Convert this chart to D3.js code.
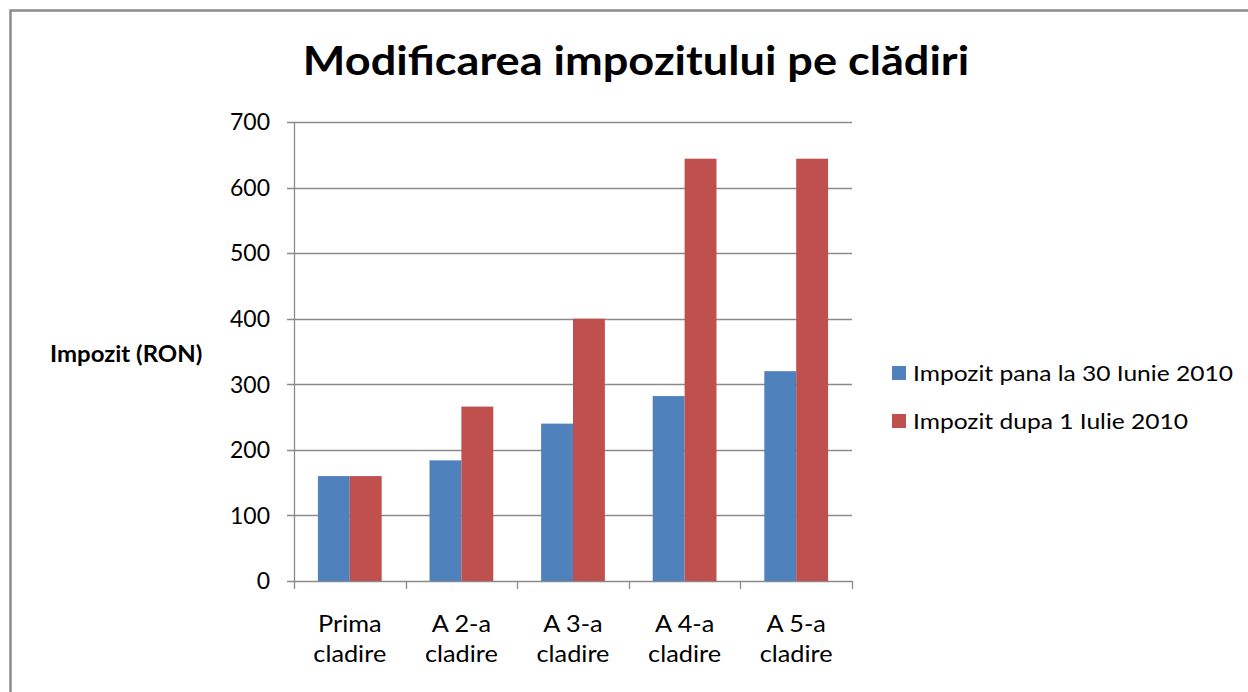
<!DOCTYPE html>
<html>
<head>
<meta charset="utf-8">
<script src="https://cdn.jsdelivr.net/npm/d3@7"></script>
<style>
  body { margin: 0; background: #fff; }
  text { font-family: Lato, "Noto Sans", sans-serif; fill: #000; }
</style>
</head>
<body>
<div id="chart"></div>
<script>
// Data
const categories = [['Prima', 'cladire'], ['A 2-a', 'cladire'], ['A 3-a', 'cladire'], ['A 4-a', 'cladire'], ['A 5-a', 'cladire']];
const seriesNames = ['Impozit pana la 30 Iunie 2010', 'Impozit dupa 1 Iulie 2010'];
const before = [160, 184, 240, 282, 320];
const after = [160, 266, 400, 644, 644];
const yTicks = [0, 100, 200, 300, 400, 500, 600, 700];
const colors = ['#4F81BD', '#C0504D'];

const width = 1248;
const height = 692;
const plot = { left: 294, right: 852, top: 122, bottom: 581 };

const svg = d3.select('#chart')
    .append('svg')
    .attr('width', width)
    .attr('height', height);

// the reference font is a bit wider than Lato, stretch text horizontally
function stretch(sel, factor) {
    sel.each(function () {
        const len = this.getComputedTextLength();
        d3.select(this)
            .attr('textLength', len * factor)
            .attr('lengthAdjust', 'spacingAndGlyphs');
    });
}

// Outer frame
svg.append('rect')
    .attr('x', 10.5)
    .attr('y', 10.5)
    .attr('width', width + 20)
    .attr('height', height + 20)
    .attr('fill', '#fff')
    .attr('stroke', '#8c8c8c')
    .attr('stroke-width', 2.5);

// Title
svg.append('text')
    .attr('x', 636)
    .attr('y', 75)
    .attr('text-anchor', 'middle')
    .style('font-size', '41px')
    .style('font-weight', 'bold')
    .text('Modificarea impozitului pe clădiri')
    .call(stretch, 1.1);

// Scales
const x = d3.scaleBand()
    .domain(d3.range(categories.length))
    .range([plot.left, plot.right]);

// gap width 150% between groups
const xInner = d3.scaleBand()
    .domain([0, 1])
    .range([0, x.bandwidth()])
    .paddingOuter(0.75);

const y = d3.scaleLinear()
    .domain([0, 700])
    .range([plot.bottom, plot.top]);

// Gridlines
svg.append('g')
    .selectAll('line')
    .data(yTicks)
    .enter()
    .append('line')
    .attr('x1', plot.left - 7)
    .attr('x2', plot.right)
    .attr('y1', d => Math.round(y(d)) + 0.5)
    .attr('y2', d => Math.round(y(d)) + 0.5)
    .attr('stroke', '#8a8a8a')
    .attr('stroke-width', 1.3);

// Y axis labels
svg.append('g')
    .selectAll('text')
    .data(yTicks)
    .enter()
    .append('text')
    .attr('x', 270)
    .attr('y', d => y(d))
    .attr('dy', '0.36em')
    .attr('text-anchor', 'end')
    .style('font-size', '23px')
    .text(d => d);

// Bars
const seriesData = [before, after];
seriesData.forEach((values, s) => {
    svg.append('g')
        .selectAll('rect')
        .data(values)
        .enter()
        .append('rect')
        .attr('x', (d, i) => x(i) + xInner(s))
        .attr('y', d => y(d))
        .attr('width', xInner.bandwidth())
        .attr('height', d => y(0) - y(d))
        .attr('fill', colors[s]);
});

// Axis lines
svg.append('line')
    .attr('x1', plot.left + 0.5)
    .attr('x2', plot.left + 0.5)
    .attr('y1', plot.top)
    .attr('y2', plot.bottom)
    .attr('stroke', '#8a8a8a')
    .attr('stroke-width', 1.3);

svg.append('g')
    .selectAll('line')
    .data(d3.range(categories.length + 1))
    .enter()
    .append('line')
    .attr('x1', d => Math.round(plot.left + d * x.step()) + 0.5)
    .attr('x2', d => Math.round(plot.left + d * x.step()) + 0.5)
    .attr('y1', plot.bottom)
    .attr('y2', plot.bottom + 8)
    .attr('stroke', '#8a8a8a')
    .attr('stroke-width', 1.3);

// Category labels, two lines each
const catLines = categories.flatMap((lines, i) => lines.map((line, j) => ({ line, i, j })));
svg.append('g')
    .selectAll('text')
    .data(catLines)
    .enter()
    .append('text')
    .attr('x', d => x(d.i) + x.bandwidth() / 2)
    .attr('y', d => 632 + d.j * 30)
    .attr('text-anchor', 'middle')
    .style('font-size', '23px')
    .text(d => d.line)
    .call(stretch, 1.1);

// Y axis title
svg.append('text')
    .attr('x', 50)
    .attr('y', 362)
    .style('font-size', '22px')
    .style('font-weight', 'bold')
    .text('Impozit (RON)')
    .call(stretch, 1.09);

// Legend
const legend = svg.append('g')
    .selectAll('g')
    .data(seriesNames)
    .enter()
    .append('g')
    .attr('transform', (d, i) => `translate(892, ${373 + i * 48})`);

legend.append('rect')
    .attr('x', 0)
    .attr('y', -7)
    .attr('width', 14)
    .attr('height', 14)
    .attr('fill', (d, i) => colors[i]);

legend.append('text')
    .attr('x', 21)
    .attr('y', 0)
    .attr('dy', '0.36em')
    .style('font-size', '21px')
    .text(d => d)
    .call(stretch, 1.17);
</script>
</body>
</html>
